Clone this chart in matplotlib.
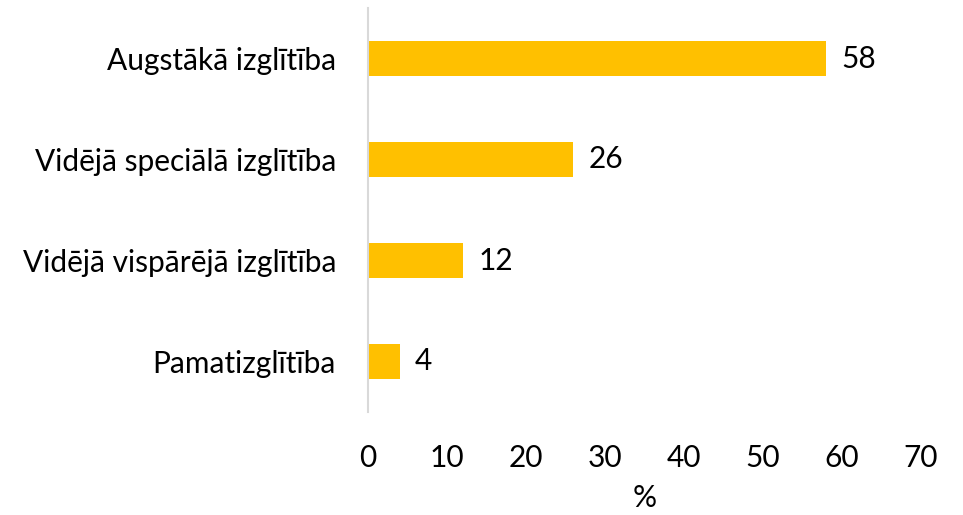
import matplotlib
matplotlib.use("Agg")
import matplotlib.pyplot as plt

categories = ["Augstākā izglītība", "Vidējā speciālā izglītība",
              "Vidējā vispārējā izglītība", "Pamatizglītība"]
values = [58, 26, 12, 4]
xticks = [0, 10, 20, 30, 40, 50, 60, 70]

plt.rcParams["font.family"] = ["Lato", "DejaVu Sans"]
FS = 21.5

fig = plt.figure(figsize=(9.63, 5.15), dpi=100)
ax = fig.add_axes([368 / 963, 1 - 412 / 515, (921 - 368) / 963, 404 / 515])

ypos = list(range(len(categories)))
ax.barh(ypos, values, height=0.34, color="#FFC000")
for y, v in zip(ypos, values):
    ax.annotate(str(v), (v, y), xytext=(11, 0), textcoords="offset points",
                va="center", ha="left", fontsize=FS)

ax.set_xlim(0, 70)
ax.set_ylim(3.5, -0.5)
ax.set_yticks(ypos)
ax.set_yticklabels(categories, fontsize=FS)
ax.set_xticks(xticks)
ax.set_xticklabels([str(t) for t in xticks], fontsize=FS)
ax.tick_params(axis="both", length=0)
ax.tick_params(axis="x", pad=23)
ax.tick_params(axis="y", pad=23)
ax.set_xlabel("%", fontsize=FS, labelpad=9)

for s in ["top", "right", "bottom"]:
    ax.spines[s].set_visible(False)
ax.spines["left"].set_color("#D9D9D9")
ax.spines["left"].set_linewidth(1.5)

fig.savefig("out.png", dpi=100)
